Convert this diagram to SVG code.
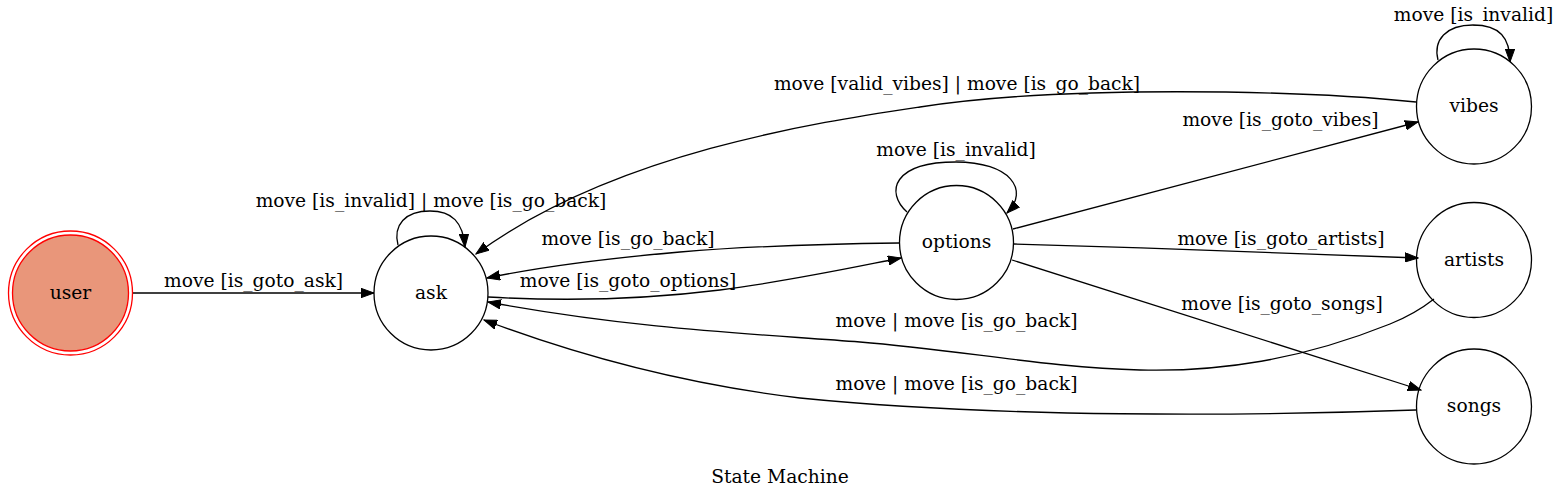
<svg xmlns="http://www.w3.org/2000/svg" width="1560" height="500" viewBox="0 0 1560 500">
<style>
  text { font-family: "DejaVu Serif", "Liberation Serif", serif; font-size: 18.67px; fill: #000; text-anchor: middle; }
  .node { fill: none; stroke: #000; stroke-width: 1.3; }
  .start { fill: #e9967a; stroke: #ff0000; stroke-width: 1.3; }
  .start-outer { fill: none; stroke: #ff0000; stroke-width: 1.3; }
  .edge { fill: none; stroke: #000; stroke-width: 1.3; marker-end: url(#arr); }
</style>
<defs>
  <marker id="arr" markerWidth="14" markerHeight="10" refX="13" refY="5" orient="auto" markerUnits="userSpaceOnUse">
    <path d="M0,0.3 L13,5 L0,9.7 z" fill="#000" stroke="#000" stroke-width="1"/>
  </marker>
</defs>
<rect width="1560" height="500" fill="#fff"/>
<g id="connectors">
  <path class="edge" d="M133,293 L374,293"/>
  <path class="edge" d="M398,245 C393,225 405,211 430,211 C452,211 463,222 465,247"/>
  <path class="edge" d="M488,297 C560,301 640,300 720,290 C790,281 850,268 901,258"/>
  <path class="edge" d="M899,243 C820,244 740,247 680,252 C600,259 540,267 487,278"/>
  <path class="edge" d="M1416,102 C1300,90 1060,85 920,107 C820,122 615,152 476,254"/>
  <path class="edge" d="M907,212 C885,192 893,162 956,162 C1010,162 1030,190 1007,213"/>
  <path class="edge" d="M1438,60 C1433,40 1446,25 1473,25 C1500,25 1510,38 1510,62"/>
  <path class="edge" d="M1013,229 L1418,122"/>
  <path class="edge" d="M1014,244 C1150,248 1300,253 1418,258"/>
  <path class="edge" d="M1012,260 L1421,390"/>
  <path class="edge" d="M1434,299 C1420,310 1405,318 1390,324 C1300,360 1220,372 1140,370 C1050,368 960,350 860,342 C760,334 640,330 488,302"/>
  <path class="edge" d="M1416,410 C1250,416 1000,418 800,398 C700,386 590,360 484,320"/>
  <text x="253.5" y="287">move [is_goto_ask]</text>
  <text x="431" y="207">move [is_invalid] | move [is_go_back]</text>
  <text x="628" y="287">move [is_goto_options]</text>
  <text x="628" y="245">move [is_go_back]</text>
  <text x="957" y="90">move [valid_vibes] | move [is_go_back]</text>
  <text x="956" y="156">move [is_invalid]</text>
  <text x="1473.5" y="21">move [is_invalid]</text>
  <text x="1280.5" y="126">move [is_goto_vibes]</text>
  <text x="1281" y="245">move [is_goto_artists]</text>
  <text x="1282" y="310">move [is_goto_songs]</text>
  <text x="956.5" y="327">move | move [is_go_back]</text>
  <text x="956.5" y="390">move | move [is_go_back]</text>
</g>
<g id="user">
  <circle class="start-outer" cx="70.5" cy="293" r="62"/>
  <circle class="start" cx="70.5" cy="293" r="58"/>
  <text x="70.5" y="298.5">user</text>
</g>
<g id="ask">
  <circle class="node" cx="431" cy="293" r="57"/>
  <text x="431" y="298.5">ask</text>
</g>
<g id="options">
  <circle class="node" cx="956.5" cy="242.5" r="57"/>
  <text x="956.5" y="248">options</text>
</g>
<g id="vibes">
  <circle class="node" cx="1474" cy="106.5" r="57.5"/>
  <text x="1474" y="112">vibes</text>
</g>
<g id="artists">
  <circle class="node" cx="1474" cy="260" r="57.5"/>
  <text x="1474" y="265.5">artists</text>
</g>
<g id="songs">
  <circle class="node" cx="1474" cy="406.5" r="57.5"/>
  <text x="1474" y="412">songs</text>
</g>
<text x="780" y="483">State Machine</text>
</svg>
